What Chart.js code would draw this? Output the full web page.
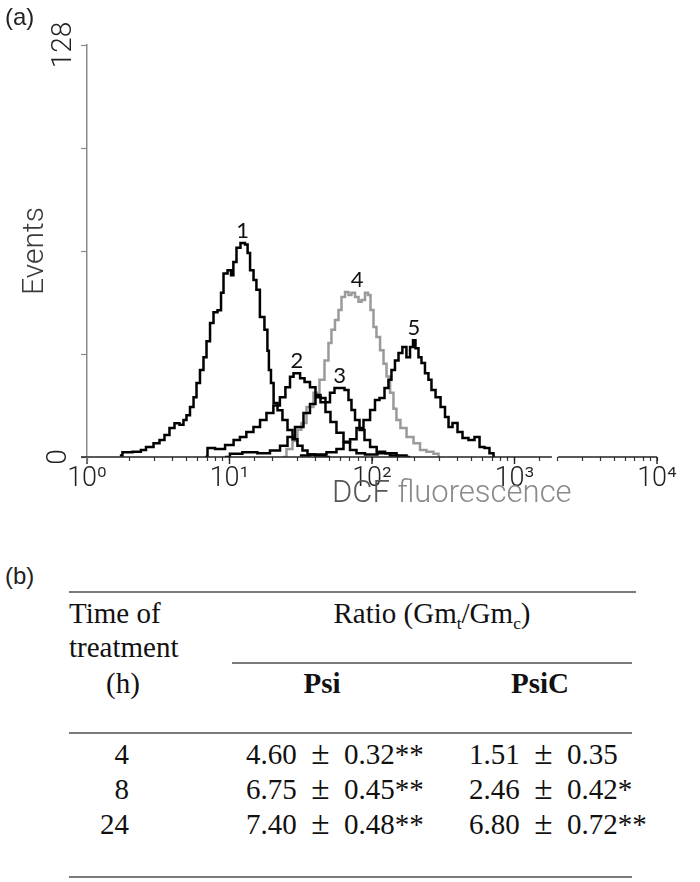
<!DOCTYPE html>
<html>
<head>
<meta charset="utf-8">
<title>DCF fluorescence histogram</title>
<script src="https://cdn.jsdelivr.net/npm/chart.js@4.4.1/dist/chart.umd.min.js"></script>
<style>
  html, body { margin:0; padding:0; background:#fff; }
  #page { position:relative; width:700px; height:882px; overflow:hidden; background:#fff; }
  #chart { position:absolute; left:0; top:0; }
  .panel { position:absolute; font-family:"Liberation Sans", Arial, sans-serif; font-size:24px; color:#222; line-height:1; }
  .tt { position:absolute; font-family:"Liberation Serif","Times New Roman",serif; font-size:29px; line-height:29px; color:#111; white-space:nowrap; }
  .pm { font-size:115%; line-height:0; }
  .rule { position:absolute; height:0; border-top:2px solid #7a7a7a; }
  sub { font-size:60%; vertical-align:-0.35em; line-height:0; }
</style>
</head>
<body>
<div id="page">
  <canvas id="chart" width="700" height="540"></canvas>
  <div class="panel" style="left:5px;top:5px">(a)</div>
  <div class="panel" style="left:5px;top:564px">(b)</div>
  <div id="table"></div>
</div>
<script>
// ---------- Panel (a): histogram data (DCF fluorescence, events) ----------
const seriesNames = ['1', '2', '3', '4', '5'];

const curve1X = [1.70,1.85,2.35,2.43,2.77,3.10,3.36,3.64,3.95,4.28,4.64,4.87,5.11,5.46,5.73,6.01,6.41,6.73,7.07,7.54,7.91,8.58,8.86,9.30,10.1,10.4,10.9,11.5,12.4,13.3,13.5,14.4,15.1,15.8,16.9,18.3,18.6,19.2,19.9,20.9,22.6,24.5,26.6,28.8,31.2,33.9,36.7,43.2,50.7];
const curve1Y = [0.5,1.5,1.6,2.2,3.1,4.3,5.3,6.8,9.0,10.5,10.0,11.5,13.0,15.5,18.6,23,27,31,36,41.6,45,45.6,51,57,58,56.5,60.6,65,66.5,66,63.4,58,55,52,43.5,39.5,33,27,23,16.8,14.5,11.5,8.4,5.5,3.5,2,0.8,0.5,0];

const curve2X = [6.73,7.30,8.58,10.1,11.3,12.4,13.9,15.6,17.2,19.2,21.5,23.7,25.7,27.5,28.8,30.3,32.3,35.0,38.5,41.8,45.3,49.1,53.2,59.6,66.8,73.6,82.4,96.8,123,145,157];
const curve2Y = [0,2.8,2.5,3.7,5.3,6.2,7.8,9.3,11.5,13.7,16,18.6,21.7,24.9,26,26,24.5,23.3,21.7,19.3,17,14,10.9,7.5,4.7,2.2,1.2,0.8,1.2,0.5,0];

const curve3X = [9.30,10.9,13.9,17.7,20.9,24.5,26.6,31.2,35.0,38.5,41.8,45.3,49.1,52.4,56.8,61.6,66.8,70.0,73.6,78.5,85.1,92.2,102,114,134,165,185];
const curve3Y = [0,1,1.5,1.2,2,3.5,6.2,9.3,13.7,16.5,18.6,18.3,17,20,21.4,21.4,20.8,17.7,14.6,11.5,8.4,5.3,3.1,1.6,1.2,0.5,0];

const curve4X = [23.7,26.6,28.8,31.2,32.8,36.7,41.1,44.6,48.3,50.7,53.2,56.8,59.6,62.6,66.8,70.0,73.6,78.5,82.4,86.5,92.2,95.3,100,105,110,118,123,130,138,145,152,165,185,207,228,255,286,300];
const curve4Y = [0,2.5,5,8.5,10.6,15.5,20,24,30,35.4,39.5,42.6,45.7,49.7,51.3,50.3,51,49.7,48.2,48.8,51,50.3,45.7,40.4,37.3,33.2,29,25,20,15,11.5,9,6.2,4.3,2.2,1.6,1.0,0];

const curve5X = [31.2,43.2,53.2,59.6,66.8,73.6,82.4,92.2,102,108,118,127,134,140,150,157,170,179,191,197,207,217,228,243,255,268,291,315,336,353,382,415,449,503,546,592,641,695,730];
const curve5Y = [0.5,0.8,1.5,2.5,4.5,5.5,9,11.5,14.6,17.7,18.3,21.4,24,27,30,32.3,34.2,31,34.2,36.3,33.8,31,29.2,26,24,20.8,18.6,15.5,12.4,9.3,10.6,7.8,5.9,5.3,6.2,3.1,2.8,1.2,0];

const xTickValues = [1, 10, 100, 1000, 10000];
const xTickLabels = ['10\u2070', '10\u00B9', '10\u00B2', '10\u00B3', '10\u2074'];
const yTickValues = [0, 128];
const yTickLabels = ['0', '128'];
const xAxisTitle = ['DCF', 'fluorescence'];
const yAxisTitle = 'Events';

// ---------- Panel (b): table data ----------
const headerTime = ['Time of', 'treatment', '(h)'];
const headerRatio = 'Ratio (Gm<sub>t</sub>/Gm<sub>c</sub>)';
const groupNames = ['Psi', 'PsiC'];
const times = [4, 8, 24];
const psiMean = [4.60, 6.75, 7.40];
const psiSD = [0.32, 0.45, 0.48];
const psiSig = ['**', '**', '**'];
const psicMean = [1.51, 2.46, 6.80];
const psicSD = [0.35, 0.42, 0.72];
const psicSig = ['', '*', '**'];

// ---------- Chart ----------
const xs = [curve1X, curve2X, curve3X, curve4X, curve5X];
const ys = [curve1Y, curve2Y, curve3Y, curve4Y, curve5Y];
const colors = ['#000', '#000', '#000', '#9a9a9a', '#000'];

const datasets = seriesNames.map((name, i) => ({
  label: name,
  data: xs[i].map((v, k) => ({ x: v, y: ys[i][k] })),
  borderColor: colors[i],
  borderWidth: 2.5,
  pointRadius: 0,
  stepped: 'middle',
  fill: false,
  order: i === 3 ? 10 : i
}));

const AXIS_BREAK = [1830, 2020];

const overlay = {
  id: 'overlay',
  afterDraw(chart) {
    const { ctx, chartArea: ca, scales: { x, y } } = chart;
    const line = (x1, y1, x2, y2) => { ctx.beginPath(); ctx.moveTo(x1, y1); ctx.lineTo(x2, y2); ctx.stroke(); };
    ctx.save();
    const yb = y.getPixelForValue(0);
    // x axis line with break
    ctx.strokeStyle = '#222'; ctx.lineWidth = 1.5;
    line(ca.left - 6, yb, x.getPixelForValue(AXIS_BREAK[0]), yb);
    line(x.getPixelForValue(AXIS_BREAK[1]), yb, ca.right, yb);
    // longer decade ticks
    ctx.lineWidth = 1.4;
    xTickValues.forEach(v => { const px = x.getPixelForValue(v); line(px, yb, px, yb + 7); });
    // y axis small extension below origin
    ctx.strokeStyle = '#8a8a8a';
    line(ca.left, yb, ca.left, yb + 5);

    // rotated y tick labels
    ctx.fillStyle = '#222';
    ctx.font = '300 28px Roboto, "Liberation Sans", sans-serif';
    ctx.textAlign = 'center'; ctx.textBaseline = 'middle';
    const yLabOffsets = [28, 23];
    yTickValues.forEach((v, i) => {
      ctx.save();
      ctx.translate(ca.left - yLabOffsets[i], y.getPixelForValue(v));
      ctx.rotate(-Math.PI / 2);
      ctx.fillText(yTickLabels[i], 0, 0);
      ctx.restore();
    });

    // y axis title
    ctx.save();
    ctx.fillStyle = '#3a3a3a';
    ctx.font = '300 30px Roboto, "Liberation Sans", sans-serif';
    ctx.translate(35, (ca.top + ca.bottom) / 2);
    ctx.rotate(-Math.PI / 2);
    ctx.fillText(yAxisTitle, 0, 0);
    ctx.restore();

    // x axis title
    ctx.font = '300 31px Roboto, "Liberation Sans", sans-serif';
    ctx.textAlign = 'left';
    const w1 = ctx.measureText(xAxisTitle[0] + ' ').width;
    const w2 = ctx.measureText(xAxisTitle[1]).width;
    const cx = ca.left + (ca.right - ca.left) * 0.64;
    const sx = cx - (w1 + w2) / 2;
    ctx.fillStyle = '#555';
    ctx.fillText(xAxisTitle[0], sx, yb + 37);
    ctx.fillStyle = '#8a8a8a';
    ctx.fillText(xAxisTitle[1], sx + w1, yb + 37);

    // peak labels
    ctx.fillStyle = '#111';
    ctx.font = '22px Lato, "Liberation Sans", sans-serif';
    ctx.textAlign = 'center'; ctx.textBaseline = 'alphabetic';
    seriesNames.forEach((name, i) => {
      const yy = ys[i];
      const m = Math.max(...yy);
      const idx = yy.map((v, k) => v >= m - 1.5 ? k : -1).filter(k => k >= 0);
      const lx = Math.pow(10, idx.reduce((s, k) => s + Math.log10(xs[i][k]), 0) / idx.length);
      ctx.fillText(name, x.getPixelForValue(lx), y.getPixelForValue(m) - 5);
    });
    ctx.restore();
  }
};

new Chart(document.getElementById('chart'), {
  type: 'line',
  data: { datasets },
  options: {
    responsive: false,
    animation: false,
    devicePixelRatio: 1,
    layout: { padding: { left: 0, right: 43, top: 45, bottom: 0 } },
    plugins: { legend: { display: false }, tooltip: { enabled: false }, title: { display: false } },
    scales: {
      x: {
        type: 'logarithmic', min: 1, max: 10000, position: 'bottom',
        border: { display: false },
        grid: { drawOnChartArea: false, drawTicks: true, tickLength: 4, tickColor: '#333', tickWidth: 1.2 },
        ticks: {
          autoSkip: false, maxRotation: 0, minRotation: 0, padding: 2, color: '#222',
          font: { family: 'Roboto, "Liberation Sans", sans-serif', size: 27, weight: '300' },
          callback: (v) => {
            const k = xTickValues.findIndex(t => Math.abs(t - v) < 1e-6 * t);
            return k >= 0 ? xTickLabels[k] : '';
          }
        },
        afterFit: (s) => { s.height = 83; }
      },
      y: {
        type: 'linear', min: 0, max: 128, position: 'left',
        border: { display: true, color: '#8a8a8a', width: 1.5 },
        grid: { drawOnChartArea: false, drawTicks: true, tickLength: 6, tickColor: '#8a8a8a', tickWidth: 1.2 },
        ticks: { display: false, stepSize: 32 },
        afterFit: (s) => { s.width = 87; }
      }
    }
  },
  plugins: [overlay]
});

// ---------- Table (b) ----------
const tbl = document.getElementById('table');
function add(cls, html, style) {
  const d = document.createElement('div');
  d.className = cls; d.innerHTML = html; d.setAttribute('style', style);
  tbl.appendChild(d);
}
const PM = '\u2002<span class="pm">\u00B1</span>\u2002';
add('rule', '', 'left:69px;width:567px;top:591px');
add('rule', '', 'left:232px;width:400px;top:662px');
add('rule', '', 'left:69px;width:563px;top:732px');
add('rule', '', 'left:69px;width:563px;top:876px');
add('tt', headerTime[0], 'left:69px;top:599px');
add('tt', headerTime[1], 'left:69px;top:633px');
add('tt', headerTime[2], 'left:23px;width:200px;text-align:center;top:669px');
add('tt', headerRatio, 'left:232px;width:400px;text-align:center;top:599px');
add('tt', '<b>' + groupNames[0] + '</b>', 'left:222px;width:200px;text-align:center;top:669px');
add('tt', '<b>' + groupNames[1] + '</b>', 'left:440px;width:200px;text-align:center;top:669px');
const rowTops = [740, 775, 810];
times.forEach((t, i) => {
  add('tt', String(t), 'left:0px;width:129px;text-align:right;top:' + rowTops[i] + 'px');
  add('tt', psiMean[i].toFixed(2) + PM + psiSD[i].toFixed(2) + psiSig[i], 'left:246px;top:' + rowTops[i] + 'px');
  add('tt', psicMean[i].toFixed(2) + PM + psicSD[i].toFixed(2) + psicSig[i], 'left:469px;top:' + rowTops[i] + 'px');
});
</script>
</body>
</html>
